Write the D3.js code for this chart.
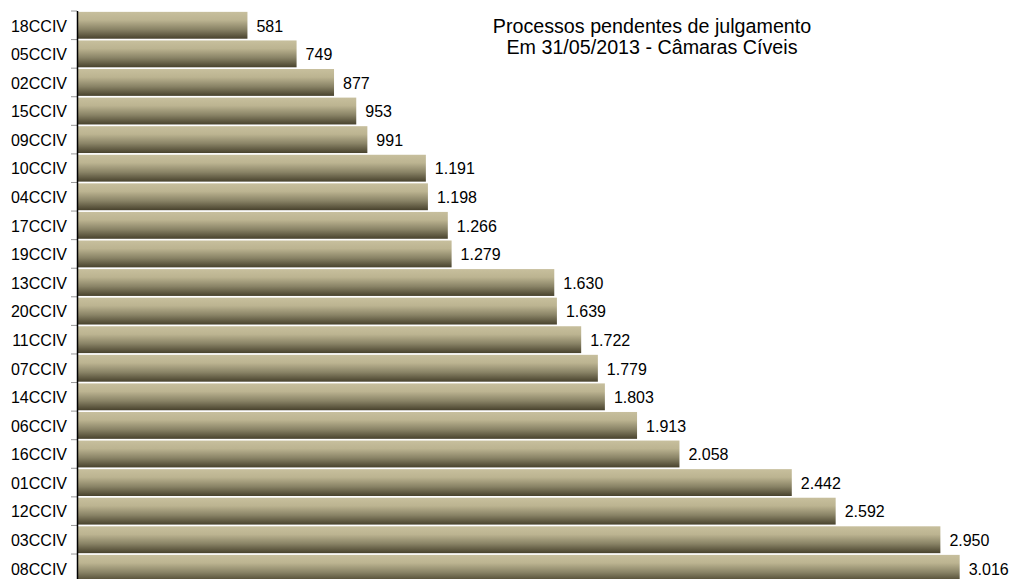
<!DOCTYPE html>
<html>
<head>
<meta charset="utf-8">
<script src="https://d3js.org/d3.v7.min.js"></script>
<style>
    body { margin: 0; background: #fff; }
    text { font-family: "Liberation Sans", Arial, sans-serif; fill: #000; }
</style>
</head>
<body>
<svg id="chart" width="1010" height="579"></svg>
<script>
// processos pendentes por camara civel
var categories = ["18CCIV", "05CCIV", "02CCIV", "15CCIV", "09CCIV", "10CCIV", "04CCIV", "17CCIV", "19CCIV", "13CCIV",
    "20CCIV", "11CCIV", "07CCIV", "14CCIV", "06CCIV", "16CCIV", "01CCIV", "12CCIV", "03CCIV", "08CCIV"];
var values = [581, 749, 877, 953, 991, 1191, 1198, 1266, 1279, 1630,
    1639, 1722, 1779, 1803, 1913, 2058, 2442, 2592, 2950, 3016];
var titleLines = ["Processos pendentes de julgamento", "Em 31/05/2013 - Câmaras Cíveis"];

var svg = d3.select("#chart");
var left = 77;
var plotTop = 11, plotBottom = 11 + 20 * 28.58;

var x = d3.scaleLinear()
    .domain([0, 3200])
    .range([left + 0.5, left + 0.5 + 3200 * 0.2925]);

var y = d3.scaleBand()
    .domain(categories)
    .range([plotTop, plotBottom])
    .paddingInner(0.06)
    .paddingOuter(0.03);

var fmt = function (v) { return d3.format(",")(v).replace(/,/g, "."); };

var grad = svg.append("defs").append("linearGradient")
    .attr("id", "bargrad")
    .attr("x1", 0).attr("y1", 0)
    .attr("x2", 0).attr("y2", 1);
grad.append("stop").attr("offset", "0%").attr("stop-color", "#c7bf9d");
grad.append("stop").attr("offset", "30%").attr("stop-color", "#bcb491");
grad.append("stop").attr("offset", "65%").attr("stop-color", "#898366");
grad.append("stop").attr("offset", "100%").attr("stop-color", "#48422d");

var rows = categories.map(function (c, i) { return { cat: c, val: values[i] }; });

svg.selectAll(".bar")
    .data(rows)
    .enter()
    .append("rect")
    .classed("bar", true)
    .attr("x", x(0))
    .attr("y", function (d) { return y(d.cat); })
    .attr("width", function (d) { return x(d.val) - x(0); })
    .attr("height", y.bandwidth())
    .attr("fill", "url(#bargrad)");

svg.selectAll(".vlabel")
    .data(rows)
    .enter()
    .append("text")
    .classed("vlabel", true)
    .attr("x", function (d) { return x(d.val) + 9; })
    .attr("y", function (d) { return y(d.cat) + y.bandwidth() / 2 + 6.3; })
    .attr("font-size", "16px")
    .text(function (d) { return fmt(d.val); });

// category axis
var step = y.step();
var axisg = svg.append("g");
axisg.selectAll(".tick")
    .data(d3.range(categories.length + 1))
    .enter()
    .append("line")
    .attr("x1", left - 6).attr("x2", left)
    .attr("y1", function (i) { return plotTop + i * step; })
    .attr("y2", function (i) { return plotTop + i * step; })
    .attr("stroke", "#999")
    .attr("stroke-width", 1);

axisg.append("line")
    .attr("x1", left + 0.5).attr("x2", left + 0.5)
    .attr("y1", plotTop).attr("y2", plotBottom)
    .attr("stroke", "#000")
    .attr("stroke-width", 1.5);

axisg.selectAll(".clabel")
    .data(categories)
    .enter()
    .append("text")
    .attr("x", left - 10)
    .attr("y", function (d) { return y(d) + y.bandwidth() / 2 + 6.3; })
    .attr("text-anchor", "end")
    .attr("font-size", "16px")
    .text(function (d) { return d; });

svg.selectAll(".title")
    .data(titleLines)
    .enter()
    .append("text")
    .attr("x", 652)
    .attr("y", function (d, i) { return 33 + i * 21; })
    .attr("text-anchor", "middle")
    .attr("font-size", "19.7px")
    .text(function (d) { return d; });
</script>
</body>
</html>
